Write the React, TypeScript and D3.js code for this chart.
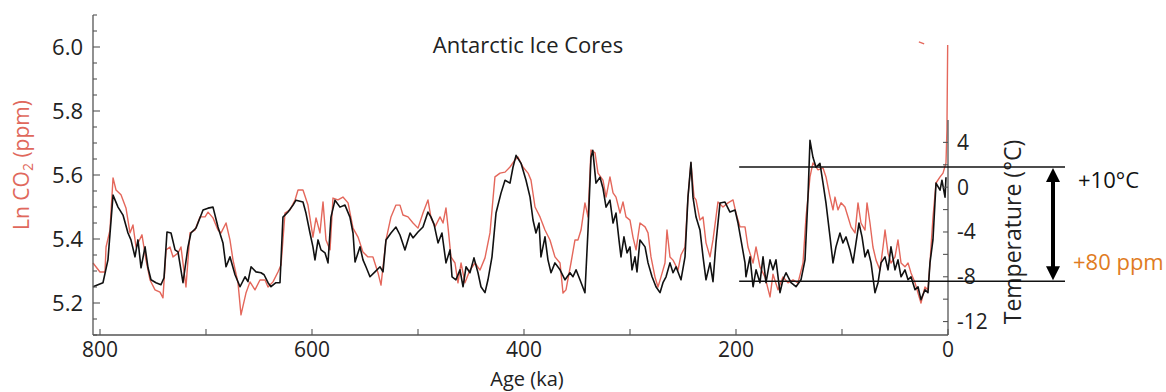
import * as d3 from "d3";

// [age (ka), ln CO2 (ppm)]
const co2Record: [number, number][] = [
  [806.6, 5.325], [800, 5.297], [795.3, 5.297], [794.3, 5.375], [790.6, 5.428], [787.7, 5.591],
  [784.9, 5.553], [780.2, 5.538], [775.5, 5.497], [771.7, 5.419], [768.9, 5.444], [766.0, 5.375],
  [760.4, 5.413], [756.6, 5.334], [752.8, 5.272], [748.1, 5.241], [743.4, 5.234], [740.6, 5.216],
  [737.7, 5.366], [734.0, 5.375], [731.1, 5.344], [726.4, 5.356], [723.6, 5.375], [718.9, 5.25],
  [715.1, 5.419], [710.4, 5.428], [705.7, 5.469], [700.9, 5.469], [698.1, 5.484], [693.4, 5.466],
  [688.7, 5.428], [685.8, 5.419], [681.1, 5.45], [677.4, 5.397], [674.5, 5.334], [669.8, 5.263],
  [667.0, 5.163], [662.3, 5.231], [658.5, 5.266], [653.8, 5.241], [649.1, 5.272], [644.3, 5.272],
  [641.5, 5.25], [636.8, 5.266], [632.1, 5.297], [629.2, 5.319], [625.5, 5.481], [620.8, 5.491],
  [616.0, 5.522], [613.2, 5.553], [608.5, 5.553], [603.8, 5.506], [599.1, 5.406], [596.2, 5.466],
  [592.5, 5.419], [589.6, 5.516], [586.8, 5.397], [583.0, 5.366], [580.2, 5.528], [575.5, 5.522],
  [570.8, 5.531], [566.0, 5.513], [561.3, 5.434], [556.6, 5.406], [551.9, 5.359], [547.2, 5.344],
  [542.5, 5.344], [537.7, 5.294], [534.9, 5.256], [530.2, 5.397], [525.5, 5.469], [520.8, 5.506],
  [517.0, 5.506], [514.2, 5.475], [509.4, 5.469], [504.7, 5.45], [500.0, 5.434], [495.3, 5.481],
  [490.6, 5.522], [487.7, 5.466], [484.0, 5.438], [479.2, 5.469], [476.4, 5.45], [473.6, 5.497],
  [471.7, 5.438], [468.9, 5.344], [465.1, 5.325], [462.3, 5.263], [459.4, 5.325], [455.7, 5.263],
  [451.0, 5.303], [446.2, 5.325], [441.5, 5.303], [436.8, 5.341], [432.1, 5.419], [427.4, 5.594],
  [422.6, 5.606], [417.9, 5.609], [413.2, 5.625], [408.5, 5.647], [405.7, 5.656], [401.0, 5.625],
  [396.2, 5.606], [393.4, 5.584], [389.6, 5.5], [384.9, 5.469], [380.2, 5.428], [375.5, 5.397],
  [370.8, 5.344], [366.0, 5.325], [363.2, 5.231], [360.4, 5.241], [355.7, 5.325], [351.9, 5.397],
  [349.1, 5.397], [346.2, 5.428], [342.5, 5.513], [339.6, 5.469], [336.8, 5.678], [333.0, 5.669],
  [330.2, 5.606], [325.5, 5.584], [322.6, 5.531], [318.9, 5.594], [316.0, 5.544], [313.2, 5.531],
  [309.4, 5.481], [306.6, 5.516], [303.8, 5.469], [300.0, 5.459], [297.2, 5.406], [294.3, 5.366],
  [290.6, 5.45], [285.8, 5.438], [283.0, 5.419], [280.2, 5.344], [276.4, 5.281], [273.6, 5.25],
  [270.8, 5.281], [267.0, 5.325], [265.1, 5.428], [262.3, 5.344], [259.4, 5.334], [254.7, 5.303],
  [251.9, 5.35], [248.1, 5.375], [245.3, 5.531], [242.5, 5.638], [239.6, 5.531], [237.7, 5.522],
  [234.0, 5.459], [231.1, 5.469], [228.3, 5.388], [224.5, 5.344], [221.7, 5.397], [217.0, 5.516],
  [212.3, 5.5], [207.5, 5.513], [202.8, 5.522], [200.0, 5.481], [196.2, 5.438], [191.5, 5.438],
  [188.7, 5.375], [183.9, 5.325], [181.1, 5.375], [177.4, 5.313], [172.6, 5.281], [167.9, 5.219],
  [165.1, 5.29], [160.4, 5.241], [155.7, 5.281], [150.9, 5.263], [146.2, 5.272], [141.5, 5.263],
  [136.8, 5.325], [134.0, 5.466], [130.2, 5.594], [127.4, 5.638], [122.6, 5.616], [117.9, 5.622],
  [115.1, 5.594], [111.3, 5.531], [108.5, 5.491], [106.6, 5.531], [103.8, 5.491], [100.9, 5.513],
  [97.2, 5.5], [94.3, 5.469], [91.5, 5.438], [87.7, 5.419], [84.9, 5.513], [82.1, 5.45],
  [78.3, 5.428], [76.4, 5.513], [73.6, 5.45], [70.8, 5.375], [67.9, 5.334], [64.2, 5.303],
  [61.3, 5.375], [59.4, 5.428], [56.6, 5.356], [53.8, 5.325], [50.0, 5.344], [47.2, 5.397],
  [44.3, 5.325], [40.6, 5.313], [37.7, 5.325], [34.9, 5.294], [31.1, 5.263], [28.3, 5.231],
  [25.5, 5.2], [21.7, 5.25], [18.9, 5.241], [17.0, 5.325], [14.2, 5.466], [11.3, 5.575],
  [7.5, 5.594], [4.7, 5.606], [1.9, 5.638], [1.0, 5.741], [0.3, 6.006],
];

// small stray red mark near the top
const co2Stray: [number, number][] = [[27.5, 6.016], [22.5, 6.01]];

// [age (ka), temperature anomaly (°C)]
const tempRecord: [number, number][] = [
  [806.6, -8.89], [797.2, -8.53], [792.5, -6.49], [787.7, -0.71], [783.0, -1.78], [778.3, -2.49],
  [773.6, -4.09], [770.8, -4.71], [767.0, -6.22], [764.2, -4.71], [761.3, -7.2], [757.5, -5.33],
  [754.7, -7.2], [751.9, -8.27], [747.2, -8.53], [742.5, -8.71], [739.6, -8.09], [736.8, -4.0],
  [733.0, -4.09], [729.2, -5.6], [726.4, -5.78], [721.7, -8.53], [717.0, -5.33], [714.2, -4.09],
  [709.4, -3.64], [702.8, -2.04], [698.1, -1.87], [693.4, -1.78], [688.7, -3.56], [684.0, -4.98],
  [681.1, -7.11], [677.4, -6.22], [672.6, -7.82], [667.9, -8.89], [663.2, -8.0], [660.4, -8.44],
  [657.5, -7.11], [652.8, -7.56], [648.1, -7.64], [645.2, -7.82], [641.5, -8.53], [638.7, -8.89],
  [634.0, -8.53], [630.2, -8.53], [627.4, -2.67], [622.6, -2.22], [617.9, -1.6], [615.1, -1.16],
  [608.5, -1.33], [605.7, -2.31], [601.9, -4.09], [599.1, -5.33], [597.2, -6.49], [594.3, -4.71],
  [591.5, -5.6], [587.7, -5.87], [584.9, -6.76], [582.1, -2.67], [578.3, -1.16], [573.6, -1.78],
  [568.9, -1.6], [564.2, -2.67], [561.3, -4.09], [559.4, -6.67], [554.7, -5.33], [551.9, -6.49],
  [549.1, -7.11], [545.3, -8.0], [540.6, -7.56], [535.8, -7.11], [533.0, -7.56], [530.2, -4.71],
  [525.5, -4.09], [520.8, -3.56], [517.0, -4.27], [512.3, -5.6], [507.5, -4.09], [504.7, -4.53],
  [500.0, -4.0], [495.3, -3.56], [490.6, -2.22], [487.7, -2.67], [484.9, -3.3], [481.1, -4.98],
  [477.4, -4.09], [473.6, -6.76], [469.8, -5.6], [467.9, -8.0], [464.2, -8.27], [460.4, -7.38],
  [457.5, -8.89], [454.7, -7.11], [451.0, -7.64], [447.2, -6.31], [443.4, -7.64], [440.6, -8.89],
  [436.8, -9.42], [434.0, -8.27], [430.2, -6.22], [426.4, -2.31], [421.7, -0.53], [417.9, 0.62],
  [413.2, 0.36], [410.4, 1.78], [407.5, 2.84], [402.8, 2.13], [398.1, 0.62], [394.3, -0.89],
  [391.5, -2.93], [388.7, -4.09], [385.8, -3.2], [384.0, -6.22], [380.2, -4.44], [377.4, -6.49],
  [374.5, -7.64], [370.8, -6.76], [366.0, -7.38], [361.3, -8.27], [356.6, -7.64], [353.8, -8.0],
  [350.9, -7.38], [347.2, -8.27], [342.5, -9.42], [339.6, -3.82], [336.8, 2.67], [335.1, 3.29],
  [332.1, 0.36], [328.3, 0.89], [325.5, -0.09], [322.6, -1.78], [318.9, -1.16], [316.0, -3.2],
  [313.2, -2.31], [310.4, -4.71], [308.5, -6.22], [305.7, -4.44], [302.8, -5.87], [300.0, -5.33],
  [298.1, -7.38], [295.3, -6.22], [293.4, -7.56], [290.6, -4.71], [285.8, -5.33], [283.0, -6.76],
  [279.2, -8.0], [275.5, -8.89], [271.7, -9.42], [268.9, -8.53], [266.0, -8.0], [262.3, -6.76],
  [259.4, -7.64], [256.6, -7.11], [251.9, -8.27], [248.1, -6.22], [245.3, -0.89], [242.5, 2.22],
  [240.6, -0.89], [237.7, -2.67], [234.0, -3.82], [231.1, -6.22], [228.3, -8.27], [224.5, -6.76],
  [221.7, -8.44], [218.9, -4.98], [215.1, -1.42], [210.4, -1.33], [205.7, -2.22], [200.9, -2.04],
  [198.1, -3.2], [195.3, -4.71], [191.5, -6.76], [190.6, -8.0], [186.8, -6.22], [183.9, -8.89],
  [181.1, -7.38], [177.4, -8.53], [174.5, -6.22], [171.7, -8.53], [167.9, -6.49], [165.1, -7.38],
  [162.3, -6.49], [158.5, -9.42], [155.7, -8.27], [152.8, -7.64], [148.1, -8.53], [143.4, -8.89],
  [138.7, -8.27], [134.9, -6.49], [132.1, -0.89], [130.2, 4.18], [127.4, 2.67], [124.5, 1.78],
  [120.8, 2.13], [117.9, 0.36], [115.1, -1.42], [111.3, -4.44], [108.5, -6.76], [105.7, -5.33],
  [101.9, -4.09], [99.1, -4.98], [96.2, -4.44], [92.5, -5.6], [89.6, -6.76], [86.8, -4.98],
  [84.0, -3.2], [81.1, -4.44], [78.3, -6.22], [75.5, -5.6], [72.6, -6.76], [68.9, -9.42],
  [66.0, -8.53], [63.2, -6.76], [59.4, -6.22], [56.6, -7.38], [53.8, -5.33], [50.0, -7.38],
  [47.2, -6.49], [44.3, -8.0], [40.6, -7.38], [37.7, -8.27], [34.9, -8.0], [31.1, -9.16],
  [28.3, -8.89], [25.5, -10.04], [21.7, -9.16], [18.9, -9.42], [17.0, -6.76], [14.2, -4.71],
  [11.3, 0.36], [7.5, -0.27], [5.7, 0.62], [2.8, -0.89], [1.9, 0.89],
];

const ageTicks = d3.range(800, -1, -100);
const ageLabels = [800, 600, 400, 200, 0];
const co2Ticks = d3.range(0, 21).map((i) => 5.1 + i * 0.05);
const co2Labels = [5.2, 5.4, 5.6, 5.8, 6.0];
const tempTicks = d3.range(-12, 6, 2);
const tempLabels = [4, 0, -4, -8, -12];
const bandTemps = [1.8, -8.4]; // +10°C / +80 ppm band
const bandStartAge = 197;

const W = 1166;
const H = 392;
const font = "'Open Sans', 'Noto Sans', sans-serif";

export default function App() {
  const left = 93;
  const right = 948;
  const bottom = 335;

  const x = d3.scaleLinear().domain([800, 0]).range([100, right]);
  const yCo2 = d3.scaleLinear().domain([5.1, 6.1]).range([bottom, 15]);
  const yTemp = d3.scaleLinear().domain([-13.2, 6]).range([bottom, 120]);

  const co2Line = d3
    .line<[number, number]>()
    .x((d) => x(d[0]))
    .y((d) => yCo2(d[1]));
  const tempLine = d3
    .line<[number, number]>()
    .x((d) => x(d[0]))
    .y((d) => yTemp(d[1]));

  const axisColor = "#555";
  const bandEnd = 1065;
  const arrowX = 1053;
  const yHi = yTemp(bandTemps[0]);
  const yLo = yTemp(bandTemps[1]);

  return (
    <svg
      width={W}
      height={H}
      style={{ position: "absolute", left: 0, top: 0, background: "#fff" }}
      fontFamily={font}
    >
      {/* title */}
      <text x={528} y={45} dy="0.35em" textAnchor="middle" fontSize={22} fill="#222">
        Antarctic Ice Cores
      </text>

      {/* curves */}
      <path d={co2Line(co2Record) ?? ""} fill="none" stroke="#e4675b" strokeWidth={1.4} strokeLinejoin="round" />
      <path d={co2Line(co2Stray) ?? ""} fill="none" stroke="#e4675b" strokeWidth={1.4} />
      <path d={tempLine(tempRecord) ?? ""} fill="none" stroke="#111" strokeWidth={1.6} strokeLinejoin="round" />

      {/* left axis */}
      <line x1={left} x2={left} y1={15} y2={bottom} stroke={axisColor} strokeWidth={1.3} />
      {co2Ticks.map((v, i) => {
        const major = co2Labels.some((l) => Math.abs(l - v) < 1e-6);
        return (
          <line key={i} x1={left} x2={left + (major ? 7 : 4)} y1={yCo2(v)} y2={yCo2(v)} stroke={axisColor} strokeWidth={1.1} />
        );
      })}
      {co2Labels.map((v) => (
        <text key={v} x={83} y={yCo2(v)} dy="0.35em" textAnchor="end" fontSize={22} fill="#222">
          {v.toFixed(1)}
        </text>
      ))}
      <text transform={`translate(22,165) rotate(-90)`} dy="0.35em" textAnchor="middle" fontSize={21} fill="#e0685c">
        <tspan>Ln CO</tspan>
        <tspan fontSize={14} dy={4}>2</tspan>
        <tspan dy={-4}> (ppm)</tspan>
      </text>

      {/* bottom axis */}
      <line x1={left} x2={right} y1={bottom} y2={bottom} stroke={axisColor} strokeWidth={1.3} />
      {ageTicks.map((a) => (
        <line key={a} x1={x(a)} x2={x(a)} y1={bottom} y2={bottom - 6} stroke={axisColor} strokeWidth={1.1} />
      ))}
      {ageLabels.map((a) => (
        <text key={a} x={x(a)} y={357} textAnchor="middle" fontSize={21} fill="#222">
          {a}
        </text>
      ))}
      <text x={527} y={386} textAnchor="middle" fontSize={20} fill="#222">
        Age (ka)
      </text>

      {/* right axis */}
      <line x1={right} x2={right} y1={120} y2={bottom} stroke={axisColor} strokeWidth={1.3} />
      {tempTicks.map((t) => (
        <line key={t} x1={right} x2={right - 5} y1={yTemp(t)} y2={yTemp(t)} stroke={axisColor} strokeWidth={1.1} />
      ))}
      {tempLabels.map((t) => (
        <text key={t} x={957} y={yTemp(t)} dy="0.35em" textAnchor="start" fontSize={21} fill="#222">
          {t}
        </text>
      ))}
      <text transform={`translate(1013,232) rotate(-90)`} dy="0.35em" textAnchor="middle" fontSize={23} fill="#222">
        Temperature (°C)
      </text>

      {/* +10°C band */}
      {bandTemps.map((t) => (
        <line key={t} x1={x(bandStartAge)} x2={bandEnd} y1={yTemp(t)} y2={yTemp(t)} stroke="#111" strokeWidth={1.6} />
      ))}
      <line x1={arrowX} x2={arrowX} y1={yHi + 10} y2={yLo - 10} stroke="#000" strokeWidth={4} />
      <polygon points={`${arrowX},${yHi + 1} ${arrowX - 7},${yHi + 15} ${arrowX + 7},${yHi + 15}`} fill="#000" />
      <polygon points={`${arrowX},${yLo - 1} ${arrowX - 7},${yLo - 15} ${arrowX + 7},${yLo - 15}`} fill="#000" />
      <text x={1078} y={180} dy="0.35em" fontSize={22} fill="#111">
        +10°C
      </text>
      <text x={1073} y={262} dy="0.35em" fontSize={22} fill="#e07b22">
        +80 ppm
      </text>
    </svg>
  );
}
